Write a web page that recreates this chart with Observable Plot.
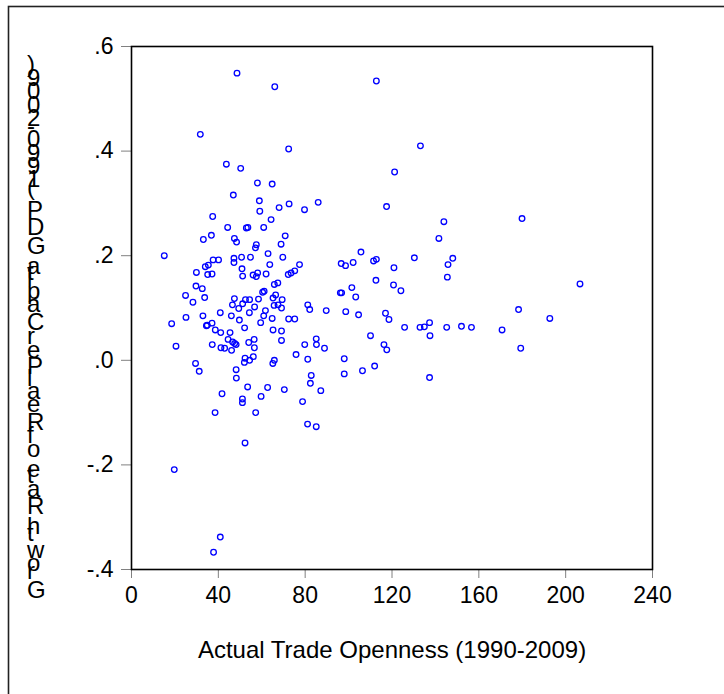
<!DOCTYPE html>
<html>
<head>
<meta charset="utf-8">
<script src="https://cdn.jsdelivr.net/npm/d3@7"></script>
<script src="https://cdn.jsdelivr.net/npm/@observablehq/plot@0.6"></script>
<style>
  html, body { margin: 0; padding: 0; background: white; }
  #chart svg { display: block; }
</style>
</head>
<body>
<div id="chart"></div>
<script>
// Trade openness (x) values
const openness = [
  48.6, 66.0, 31.7, 72.4, 43.7, 50.3, 58.0, 64.8, 46.9, 58.9,
  59.1, 68.0, 72.6, 79.7, 86.0, 37.4, 44.3, 52.9, 53.6, 60.9,
  64.3, 36.8, 33.1, 47.4, 48.4, 70.8, 68.9, 57.5, 57.1, 15.1,
  62.9, 37.6, 40.1, 47.2, 50.7, 54.8, 69.7, 47.2, 34.0, 35.4,
  29.9, 50.9, 63.7, 77.4, 35.1, 37.1, 51.2, 56.0, 58.1, 57.5,
  62.0, 72.2, 73.5, 75.2, 29.7, 32.6, 24.9, 33.7, 28.3, 47.4,
  52.5, 54.4, 58.5, 60.4, 61.1, 65.8, 67.4, 66.4, 65.2, 69.4,
  46.5, 51.2, 49.4, 54.3, 56.7, 61.7, 60.9, 65.7, 67.5, 69.1,
  40.9, 46.0, 81.2, 82.1, 89.7, 18.5, 25.1, 32.9, 34.5, 34.9,
  37.1, 38.6, 41.1, 49.7, 52.1, 59.5, 64.8, 72.4, 75.2, 65.2,
  69.1, 45.4, 44.5, 46.6, 47.5, 48.2, 54.0, 56.5, 56.6, 69.1,
  37.2, 41.2, 42.9, 46.1, 20.5, 79.8, 85.1, 85.2, 88.9, 75.8,
  81.2, 52.3, 52.0, 54.4, 56.1, 65.8, 65.1, 29.5, 31.2, 48.2,
  48.3, 53.5, 62.7, 70.4, 82.8, 82.4, 87.2, 41.7, 51.1, 51.1,
  59.7, 78.8, 38.5, 57.2, 81.1, 85.1, 52.3, 19.7, 40.9, 37.8,
  112.8, 133.1, 121.2, 117.5, 143.9, 179.9, 141.6, 105.7, 96.6, 98.6,
  102.1, 111.5, 112.8, 120.9, 130.3, 148.0, 145.8, 145.5, 112.6, 120.7,
  124.1, 101.5, 96.2, 96.8, 103.3, 206.6, 98.7, 104.6, 117.0, 118.6,
  125.8, 132.9, 134.9, 137.3, 137.5, 145.2, 152.0, 156.6, 170.7, 178.3,
  192.7, 179.3, 110.1, 116.3, 117.6, 98.0, 98.0, 106.4, 112.0, 137.3
];
// Growth rate (y) values
const growth = [
  0.549, 0.523, 0.432, 0.404, 0.375, 0.367, 0.339, 0.337, 0.316, 0.305,
  0.285, 0.292, 0.299, 0.288, 0.302, 0.275, 0.254, 0.253, 0.254, 0.254,
  0.269, 0.239, 0.231, 0.233, 0.226, 0.238, 0.222, 0.221, 0.215, 0.200,
  0.204, 0.192, 0.192, 0.195, 0.197, 0.197, 0.197, 0.187, 0.179, 0.182,
  0.168, 0.175, 0.183, 0.183, 0.164, 0.165, 0.161, 0.163, 0.167, 0.160,
  0.165, 0.164, 0.167, 0.171, 0.142, 0.137, 0.124, 0.120, 0.111, 0.118,
  0.116, 0.116, 0.117, 0.130, 0.132, 0.145, 0.148, 0.125, 0.119, 0.116,
  0.106, 0.108, 0.099, 0.091, 0.102, 0.095, 0.085, 0.105, 0.106, 0.100,
  0.091, 0.085, 0.106, 0.097, 0.095, 0.070, 0.082, 0.085, 0.066, 0.067,
  0.071, 0.058, 0.053, 0.077, 0.062, 0.072, 0.080, 0.079, 0.079, 0.058,
  0.056, 0.053, 0.040, 0.035, 0.032, 0.030, 0.034, 0.040, 0.024, 0.038,
  0.030, 0.024, 0.023, 0.019, 0.027, 0.030, 0.041, 0.030, 0.023, 0.011,
  0.002, 0.004, -0.004, 0.000, 0.007, 0.000, -0.006, -0.006, -0.021, -0.018,
  -0.034, -0.051, -0.052, -0.056, -0.029, -0.044, -0.058, -0.064, -0.074, -0.081,
  -0.069, -0.079, -0.100, -0.100, -0.122, -0.127, -0.158, -0.209, -0.338, -0.367,
  0.534, 0.410, 0.360, 0.294, 0.265, 0.271, 0.233, 0.207, 0.185, 0.181,
  0.187, 0.190, 0.193, 0.177, 0.196, 0.195, 0.183, 0.159, 0.153, 0.144,
  0.133, 0.139, 0.129, 0.129, 0.121, 0.146, 0.093, 0.087, 0.090, 0.078,
  0.063, 0.063, 0.064, 0.072, 0.047, 0.063, 0.065, 0.063, 0.058, 0.097,
  0.080, 0.023, 0.047, 0.030, 0.020, 0.003, -0.026, -0.020, -0.011, -0.033
];
const xTicks = [0, 40, 80, 120, 160, 200, 240];
const xTickLabels = ["0", "40", "80", "120", "160", "200", "240"];
const yTicks = [-0.4, -0.2, 0, 0.2, 0.4, 0.6];
const yTickLabels = ["-.4", "-.2", ".0", ".2", ".4", ".6"];
const xTitle = "Actual Trade Openness (1990-2009)";
const yTitle = "Growth Rate of Real Per Capita GDP (1990-2009)";

const data = openness.map((v, i) => ({open: v, growth: growth[i]}));
const font = "'Liberation Sans', Arial, Helvetica, sans-serif";

const svg = Plot.plot({
  width: 724,
  height: 694,
  marginLeft: 131,
  marginRight: 72,
  marginTop: 46,
  marginBottom: 125,
  style: {fontFamily: font, background: "white", color: "black", overflow: "visible"},
  x: {domain: [0, 240]},
  y: {domain: [-0.4, 0.6]},
  marks: [
    Plot.axisX({
      ticks: xTicks,
      tickFormat: d => xTickLabels[xTicks.indexOf(d)],
      tickSize: 9, tickPadding: 8, fontSize: 23,
      stroke: "#808080", fill: "black", label: null
    }),
    Plot.axisY({
      ticks: yTicks,
      tickFormat: d => yTickLabels[yTicks.findIndex(t => Math.abs(t - d) < 1e-9)],
      tickSize: 10, tickPadding: 8, fontSize: 23,
      stroke: "#808080", fill: "black", label: null
    }),
    Plot.dot(data, {x: "open", y: "growth", r: 2.8, stroke: "#0000ff", strokeWidth: 1.3, fill: "none"}),
    Plot.frame({stroke: "black", strokeWidth: 1.6}),
    Plot.text([xTitle], {text: d => d, frameAnchor: "bottom", dy: 88, fontSize: 24, fill: "black"})
  ]
});

const s = d3.select(svg);
// outer border of the picture
s.insert("rect", ":first-child")
  .attr("x", 8.5).attr("y", 6.5).attr("width", 800).attr("height", 800)
  .attr("fill", "none").attr("stroke", "#222").attr("stroke-width", 1.6);
// y title: characters stacked upright along the vertical direction
s.append("text")
  .attr("transform", "translate(27,598) rotate(-90)")
  .attr("rotate", "90")
  .attr("text-anchor", "start")
  .attr("font-size", 24)
  .attr("font-family", font)
  .attr("fill", "black")
  .text(yTitle);

document.getElementById("chart").appendChild(svg);
</script>
</body>
</html>
